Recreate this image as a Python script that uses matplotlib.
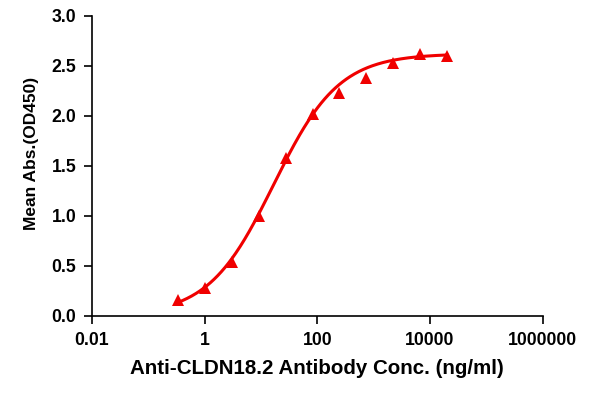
import numpy as np
import matplotlib.pyplot as plt

plt.rcParams['font.family'] = ['Liberation Sans', 'DejaVu Sans']
plt.rcParams['font.weight'] = 'bold'

# 3-fold dilution series (ng/ml) and measured OD450
conc = [0.339, 1.016, 3.05, 9.14, 27.4, 82.3, 247, 741, 2222, 6667, 20000]
od450 = [0.16, 0.28, 0.54, 1.00, 1.58, 2.02, 2.23, 2.38, 2.53, 2.62, 2.60]

# 4PL fit parameters (bottom, top, EC50, hill)
fit_bottom = 0.0
fit_top = 2.62
fit_ec50 = 16.7
fit_hill = 0.75

xticks = [0.01, 1, 100, 10000, 1000000]
xtick_labels = ["0.01", "1", "100", "10000", "1000000"]
yticks = [0.0, 0.5, 1.0, 1.5, 2.0, 2.5, 3.0]

red = "#f00000"

fig = plt.figure(figsize=(5.92, 3.94), dpi=100)
ax = fig.add_axes([92 / 592, 1 - 315.7 / 394, (542.7 - 92) / 592, 300 / 394])

xs = np.logspace(np.log10(conc[0]), np.log10(conc[-1]), 300)
ys = fit_bottom + (fit_top - fit_bottom) / (1 + (fit_ec50 / xs) ** fit_hill)
ax.plot(xs, ys, color=red, linewidth=2.2, zorder=2)
ax.plot(conc, od450, linestyle="none", marker="^", markersize=9,
        color=red, markeredgewidth=0, zorder=3)

ax.set_xscale("log")
ax.set_xlim(0.01, 1000000)
ax.set_ylim(0, 3.0)
ax.set_xticks(xticks)
ax.set_xticklabels(xtick_labels)
ax.minorticks_off()
ax.set_yticks(yticks)
ax.set_yticklabels([f"{v:.1f}" for v in yticks])

for s in ["top", "right"]:
    ax.spines[s].set_visible(False)
for s in ["left", "bottom"]:
    ax.spines[s].set_linewidth(1.2)
ax.tick_params(axis="both", direction="out", length=5.8, width=1.2,
               labelsize=12.7)
ax.tick_params(axis="y", pad=5.5)
ax.tick_params(axis="x", pad=6)

ax.set_xlabel("Anti-CLDN18.2 Antibody Conc. (ng/ml)", fontsize=14.8,
              fontweight="bold", labelpad=7)
ax.set_ylabel("Mean Abs.(OD450)", fontsize=12.5, fontweight="bold", labelpad=9)
ax.yaxis.label.set_y(0.54)

fig.savefig("out.png", dpi=100)
